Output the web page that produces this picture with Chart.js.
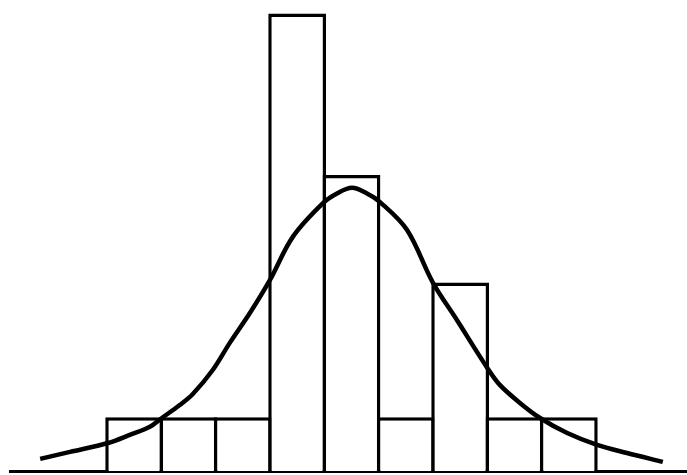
<!DOCTYPE html>
<html>
<head>
<meta charset="utf-8">
<script src="https://cdn.jsdelivr.net/npm/chart.js@4"></script>
<style>
  html, body { margin: 0; padding: 0; background: #fff; }
  canvas { display: block; }
</style>
</head>
<body>
<canvas id="hist" width="687" height="475"></canvas>
<script>
// histogram bins (bin centres in class units) and their counts
const binCenters = [0.5, 1.5, 2.5, 3.5, 4.5, 5.5, 6.5, 7.5, 8.5];
const counts = [2, 2, 2, 17, 11, 2, 7, 2, 2];

// fitted curve
const curveX = [-1.23, -0.68, 0.02, 0.42, 0.79, 1.01, 1.34, 1.58, 1.95, 2.26, 2.63, 3.0,
                3.42, 3.98, 4.25, 4.51, 4.77, 5.02, 5.52, 6.0, 6.44, 7.0, 7.23, 7.6,
                7.97, 8.47, 9.02, 9.57, 10.23];
const curveY = [0.45, 0.71, 1.04, 1.34, 1.64, 1.97, 2.45, 2.86, 3.76, 4.76, 5.87, 7.1,
                8.7, 9.96, 10.33, 10.52, 10.33, 10.0, 8.96, 6.99, 5.61, 3.83, 3.2, 2.53,
                1.97, 1.41, 0.97, 0.67, 0.34];

const barData = binCenters.map((x, i) => ({ x: x, y: counts[i] }));
const curveData = curveX.map((x, i) => ({ x: x, y: curveY[i] }));

const edge = 3.5; // outline width of the bars

new Chart(document.getElementById('hist'), {
  type: 'bar',
  data: {
    datasets: [
      {
        type: 'line',
        data: curveData,
        borderColor: '#000',
        borderWidth: 4.5,
        pointRadius: 0,
        fill: false,
        tension: 0.35,
        order: 0
      },
      {
        data: barData,
        backgroundColor: '#fff',
        borderColor: '#000',
        borderWidth: edge,
        borderSkipped: 'bottom',
        // let neighbours overlap by one outline so shared edges stay thin
        barPercentage: 1.064,
        categoryPercentage: 1,
        order: 1
      }
    ]
  },
  options: {
    responsive: false,
    animation: false,
    devicePixelRatio: 1,
    layout: { padding: { left: 10, right: 0, top: 0, bottom: 4 } },
    plugins: { legend: { display: false }, tooltip: { enabled: false } },
    scales: {
      x: {
        type: 'linear',
        offset: false,
        min: -1.785,
        max: 10.675,
        grid: { display: false, drawTicks: false },
        ticks: { display: false },
        border: { display: true, color: '#000', width: 3 }
      },
      y: {
        display: false,
        min: 0,
        max: 17.5
      }
    }
  }
});
</script>
</body>
</html>
